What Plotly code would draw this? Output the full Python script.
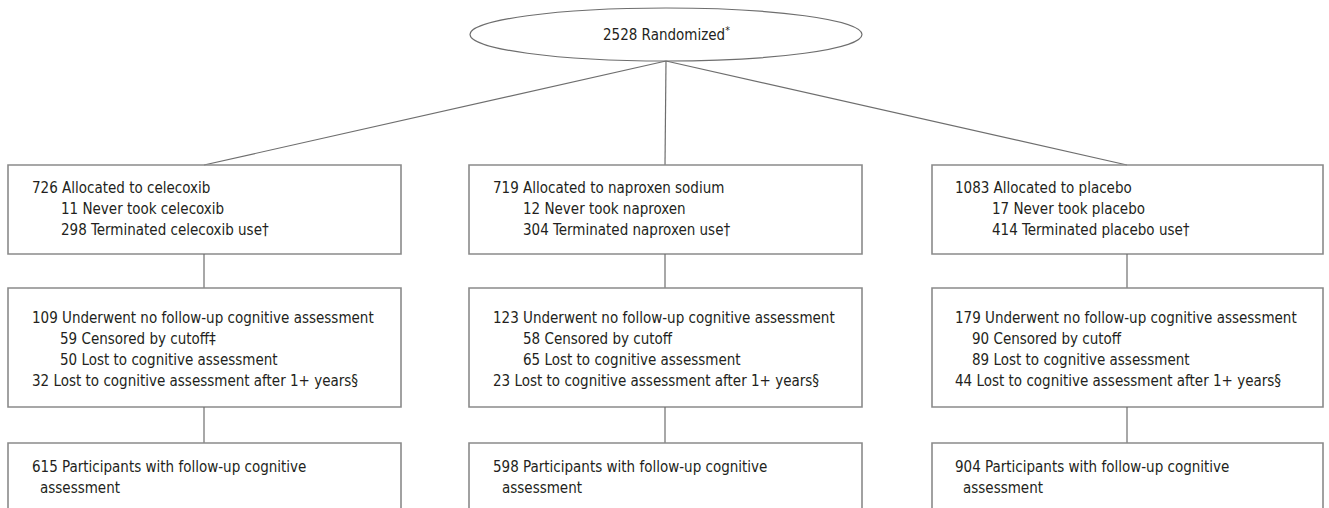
import plotly.graph_objects as go

# ---- data ----
randomized = 2528
arms = ["celecoxib", "naproxen sodium", "placebo"]
arm_short = ["celecoxib", "naproxen", "placebo"]
allocated = [726, 719, 1083]
never_took = [11, 12, 17]
terminated = [298, 304, 414]
no_followup = [109, 123, 179]
censored = [59, 58, 90]
censored_mark = ["‡", "", ""]
lost = [50, 65, 89]
lost_after = [32, 23, 44]
followup = [615, 598, 904]

# ---- layout geometry ----
W, H = 1329, 508
box_x0 = [8, 469, 932]
box_x1 = [401, 862, 1323]
conn_x = [204, 665, 1127]
rows = [(165, 254), (288, 407), (443, 530)]
text_x = [30, 491, 953]
indent1 = [59, 521, 990]
indent2 = [58, 521, 970]
indent3 = [38, 500, 961]
ell = (470, 8, 862, 61)
ell_cx, ell_bottom = 666, 61

line_col = "#6e6e6e"
txt_col = "#231f20"
font_fam = "DejaVu Sans Condensed, Liberation Sans Narrow, sans-serif"
fs = 15

fig = go.Figure()
fig.add_trace(go.Scatter(x=[0, W], y=[0, H], mode="markers",
                         marker=dict(opacity=0), hoverinfo="skip", showlegend=False))

shapes = []
shapes.append(dict(type="circle", x0=ell[0], y0=ell[1], x1=ell[2], y1=ell[3],
                   line=dict(color=line_col, width=1.2), fillcolor="white"))
for i in range(3):
    shapes.append(dict(type="line", x0=ell_cx, y0=ell_bottom, x1=conn_x[i], y1=rows[0][0],
                       line=dict(color=line_col, width=1.2)))
    for r, (y0, y1) in enumerate(rows):
        shapes.append(dict(type="rect", x0=box_x0[i], y0=y0, x1=box_x1[i], y1=y1,
                           line=dict(color="#8a8a8a", width=1.6), fillcolor="rgba(0,0,0,0)"))
        if r < 2:
            shapes.append(dict(type="line", x0=conn_x[i], y0=y1, x1=conn_x[i], y1=rows[r + 1][0],
                               line=dict(color=line_col, width=1.2)))

ann = []
def add(x, y, t, anchor="left", size=fs):
    ann.append(dict(x=x, y=y, text=t, showarrow=False, xanchor=anchor, yanchor="middle",
                    font=dict(family=font_fam, size=size, color=txt_col)))

add(ell_cx, 34, f"{randomized} Randomized<sup>*</sup>", "center")

for i in range(3):
    add(text_x[i], 188, f"{allocated[i]} Allocated to {arms[i]}")
    add(indent1[i], 209, f"{never_took[i]} Never took {arm_short[i]}")
    add(indent1[i], 230, f"{terminated[i]} Terminated {arm_short[i]} use†")
    add(text_x[i], 318, f"{no_followup[i]} Underwent no follow-up cognitive assessment")
    add(indent2[i], 339, f"{censored[i]} Censored by cutoff{censored_mark[i]}")
    add(indent2[i], 360, f"{lost[i]} Lost to cognitive assessment")
    add(text_x[i], 381, f"{lost_after[i]} Lost to cognitive assessment after 1+ years§")
    add(text_x[i], 467, f"{followup[i]} Participants with follow-up cognitive")
    add(indent3[i], 488, "assessment")

fig.update_layout(
    width=W, height=H, margin=dict(l=0, r=0, t=0, b=0),
    plot_bgcolor="white", paper_bgcolor="white",
    xaxis=dict(range=[0, W], visible=False, fixedrange=True),
    yaxis=dict(range=[H, 0], visible=False, fixedrange=True),
    shapes=shapes, annotations=ann, showlegend=False,
)
fig.write_html("out.html", config={"displayModeBar": False},
               post_script="document.body.style.margin='0';document.body.style.overflow='hidden';")
